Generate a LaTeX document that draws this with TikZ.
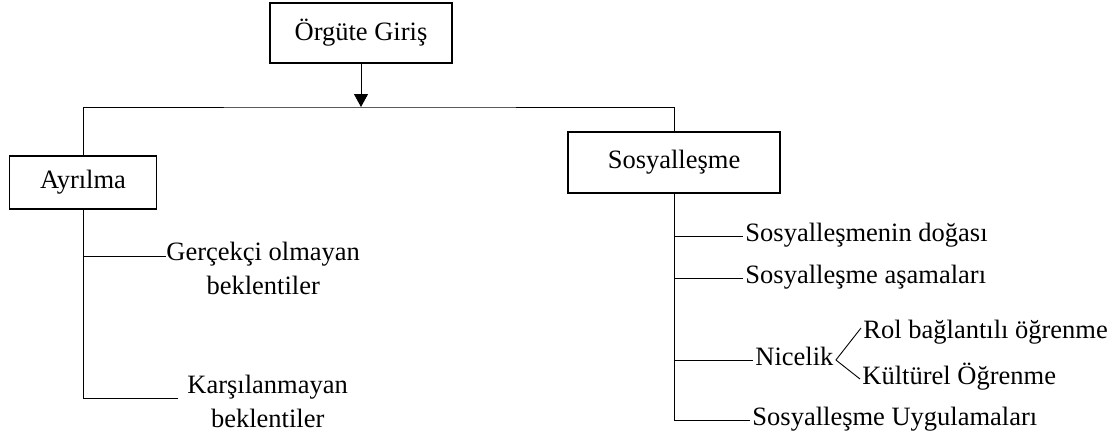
\documentclass[tikz,border=0pt]{standalone}
\usepackage{fontspec}
\setmainfont{Liberation Serif}
\usetikzlibrary{arrows.meta}

\begin{document}
\begin{tikzpicture}[x=1pt, y=-1pt, line width=0.9pt,
	every node/.style={font=\fontsize{26.5}{34}\selectfont},
	box/.style={draw, line width=1.8pt, inner sep=0pt},
	item/.style={inner sep=0pt, inner xsep=2pt, text height=10pt, text depth=0pt, anchor=west},
	twoline/.style={inner sep=0pt, align=center, anchor=north west}]
	% page size
	\useasboundingbox (0,0) rectangle (1115,437);
	
	% boxes
	\node[box, minimum width=182pt, minimum height=60pt] (giris) at (361,33) {Örgüte Giriş};
	\node[box, minimum width=147pt, minimum height=53pt] (ayrilma) at (83,182.5) {Ayrılma};
	\node[box, minimum width=212pt, minimum height=61pt] (sosyal) at (674,162.5) {Sosyalleşme};
	
	% top bar
	\coordinate (bar) at (361,107);
	\draw[-{Triangle[length=13pt, width=14pt]}] (giris) -- (bar);
	\draw (ayrilma.north) |- (bar) -| (sosyal.north);
	
	% left side
	\node[twoline] (gercek) at (166,242) {Gerçekçi olmayan\\beklentiler};
	\node[twoline] (karsi) at (187,375) {Karşılanmayan\\beklentiler};
	\coordinate (g1) at ([yshift=-14pt]gercek.north west);
	\coordinate (k1) at ([shift={(-9pt,-23pt)}]karsi.north west);
	\draw (ayrilma.south) |- (k1);
	\draw (ayrilma.south |- g1) -- (g1);
	
	% right side
	\node[item] (doga) at (743,236) {Sosyalleşmenin doğası};
	\node[item] (asama) at (743,278) {Sosyalleşme aşamaları};
	\node[item] (nicelik) at (753,360) {Nicelik};
	\node[item] (uygu) at (750,420) {Sosyalleşme Uygulamaları};
	\node[item, anchor=north west] (rol) at (861,328) {Rol bağlantılı öğrenme};
	\node[item] (kultur) at (860,379) {Kültürel Öğrenme};
	
	\draw (sosyal.south) |- (uygu.west);
	\foreach \n in {doga, asama, nicelik}
		\draw (sosyal.south |- \n.west) -- (\n.west);
	\draw (nicelik.east) -- (rol.north west);
	\draw (nicelik.east) -- (kultur.west);
\end{tikzpicture}
\end{document}
